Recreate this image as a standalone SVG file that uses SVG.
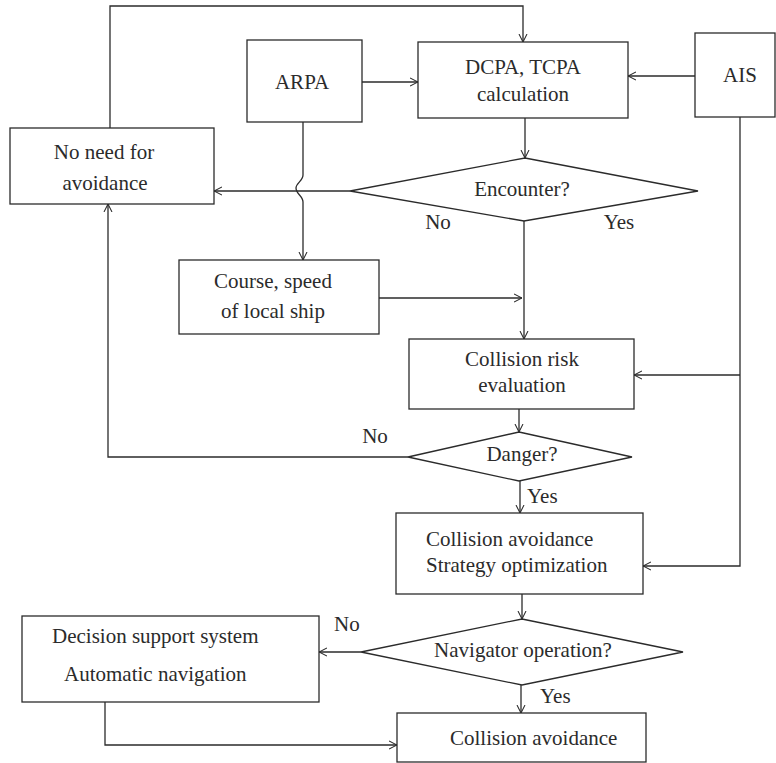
<svg xmlns="http://www.w3.org/2000/svg" width="776" height="763" viewBox="0 0 776 763">
<style>
.n{fill:#fff;stroke:#2b2b2b;stroke-width:1.3}
.c{fill:none;stroke:#2b2b2b;stroke-width:1.3}
text{font-family:"Liberation Serif","Times New Roman",serif;font-size:21px;fill:#2b2b2b}
.m{text-anchor:middle}
</style>
<defs>
<marker id="a" viewBox="0 0 10 10" refX="10" refY="5" markerWidth="8" markerHeight="10" markerUnits="userSpaceOnUse" orient="auto">
<path d="M0,0 L10,5 L0,10" fill="none" stroke="#2b2b2b" stroke-width="1.3"/>
</marker>
</defs>
<rect width="776" height="763" fill="#fff"/>
<g id="connectors" class="c" marker-end="url(#a)">
<path class="c" marker-end="url(#a)" d="M110,128 V6 H523 V42"/>
<path class="c" marker-end="url(#a)" d="M362,82 H418"/>
<path class="c" marker-end="url(#a)" d="M695,76 H628"/>
<path class="c" marker-end="url(#a)" d="M525,118 V158"/>
<path class="c" marker-end="url(#a)" d="M350,191 H214"/>
<path class="c" marker-end="url(#a)" d="M303,122 V175 C303,181 296,183 296,188 C296,194 303,196 303,202 V260"/>
<path class="c" d="M524,221 V339" marker-end="url(#a)"/>
<path class="c" marker-end="url(#a)" d="M379,298 H522"/>
<path class="c" marker-end="url(#a)" d="M740,117 V566 H643"/>
<path class="c" marker-end="url(#a)" d="M740,375 H634"/>
<path class="c" marker-end="url(#a)" d="M519,409 V432"/>
<path class="c" marker-end="url(#a)" d="M408,457 H108 V204"/>
<path class="c" marker-end="url(#a)" d="M520,481 V513"/>
<path class="c" marker-end="url(#a)" d="M522,594 V619"/>
<path class="c" marker-end="url(#a)" d="M361,652 H319"/>
<path class="c" marker-end="url(#a)" d="M521,685 V713"/>
<path class="c" marker-end="url(#a)" d="M105,702 V745 H397"/>
</g>
<g id="arpa"><rect class="n" x="247" y="40" width="115" height="82"/><text class="m" x="302" y="89">ARPA</text></g>
<g id="dcpa"><rect class="n" x="418" y="42" width="210" height="76"/><text class="m" x="523" y="74">DCPA, TCPA</text><text class="m" x="523" y="101">calculation</text></g>
<g id="ais"><rect class="n" x="695" y="33" width="80" height="84"/><text class="m" x="740" y="82">AIS</text></g>
<g id="no-need"><rect class="n" x="10" y="128" width="204" height="76"/><text class="m" x="104" y="159">No need for</text><text class="m" x="105" y="190">avoidance</text></g>
<g id="encounter"><polygon class="n" points="525,158 698,191 524,221 350,191"/><text class="m" x="522" y="196">Encounter?</text><text class="m" x="438" y="229">No</text><text class="m" x="619" y="229">Yes</text></g>
<g id="course"><rect class="n" x="179" y="260" width="200" height="74"/><text class="m" x="273" y="288">Course, speed</text><text class="m" x="273" y="318">of local ship</text></g>
<g id="risk"><rect class="n" x="409" y="339" width="225" height="70"/><text class="m" x="522" y="366">Collision risk</text><text class="m" x="522" y="392">evaluation</text></g>
<g id="danger"><polygon class="n" points="519,432 632,457 519,481 408,457"/><text class="m" x="522" y="461">Danger?</text><text class="m" x="375" y="443">No</text><text x="527" y="503">Yes</text></g>
<g id="strategy"><rect class="n" x="396" y="513" width="247" height="81"/><text x="426" y="546">Collision avoidance</text><text x="426" y="572">Strategy optimization</text></g>
<g id="navigator"><polygon class="n" points="522,619 683,652 522,685 361,652"/><text class="m" x="523" y="657">Navigator operation?</text><text x="334" y="631">No</text><text x="540" y="703">Yes</text></g>
<g id="decision"><rect class="n" x="22" y="616" width="297" height="86"/><text x="52" y="643">Decision support system</text><text x="64" y="681">Automatic navigation</text></g>
<g id="final"><rect class="n" x="397" y="713" width="249" height="49"/><text x="450" y="745">Collision avoidance</text></g>
</svg>
